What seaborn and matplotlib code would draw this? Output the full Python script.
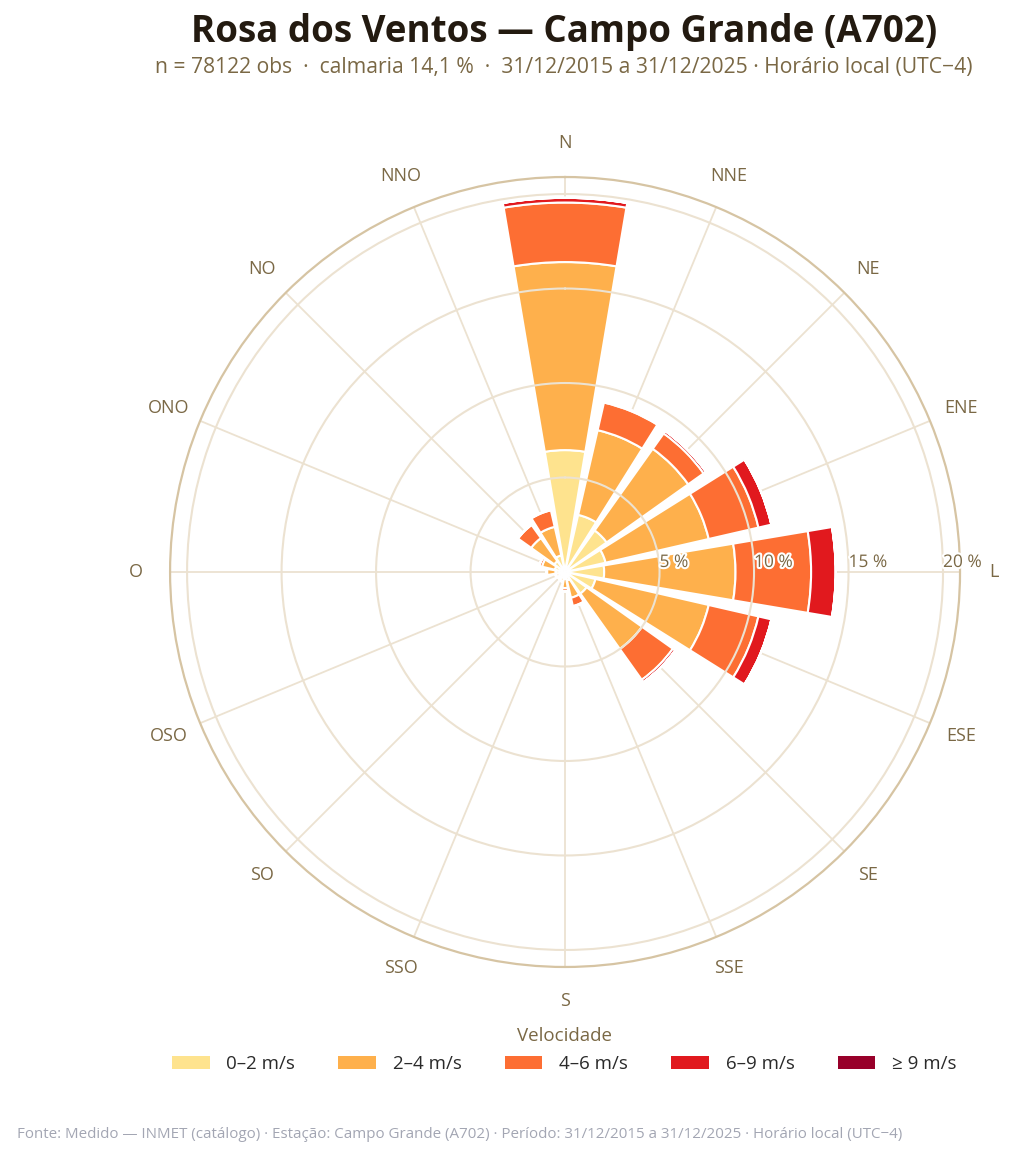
import numpy as np
import seaborn as sns
import matplotlib.pyplot as plt
import matplotlib.patheffects as pe
from matplotlib.patches import Patch

# Wind direction sectors (Portuguese compass points, clockwise from N)
directions = ["N", "NNE", "NE", "ENE", "L", "ESE", "SE", "SSE",
              "S", "SSO", "SO", "OSO", "O", "ONO", "NO", "NNO"]
speed_classes = ["0–2 m/s", "2–4 m/s", "4–6 m/s", "6–9 m/s", "≥ 9 m/s"]
speed_colors = ["#fee38e", "#feb04c", "#fd6e33", "#e1191e", "#98002a"]

# frequency (%) per direction, one list per speed class
freq_0_2 = [6.45, 3.1, 2.7, 2.2, 2.07, 1.65, 1.4, 0.45,
            0.35, 0.3, 0.3, 0.3, 0.5, 0.55, 0.7, 0.9]
freq_2_4 = [9.95, 4.6, 5.3, 5.6, 6.95, 6.15, 3.6, 0.95,
            0.5, 0.2, 0.15, 0.2, 0.45, 0.7, 1.5, 1.55]
freq_4_6 = [3.15, 1.5, 1.0, 2.7, 4.0, 2.7, 2.0, 0.45,
            0.15, 0.03, 0.02, 0.03, 0.03, 0.15, 0.85, 0.9]
freq_6_9 = [0.25, 0.05, 0.15, 0.7, 1.3, 0.7, 0.15, 0.03,
            0.03, 0.0, 0.0, 0.0, 0.0, 0.0, 0.02, 0.03]
freq_9p = [0.0] * 16

ring_ticks = [5, 10, 15, 20]
r_max = 20.9

title = "Rosa dos Ventos — Campo Grande (A702)"
subtitle = ("n = 78122 obs  ·  calmaria 14,1 %  ·  31/12/2015 a 31/12/2025 · "
            "Horário local (UTC−4)")
footer = ("Fonte: Medido — INMET (catálogo) · Estação: Campo Grande (A702) · "
          "Período: 31/12/2015 a 31/12/2025 · Horário local (UTC−4)")

sns.set_theme(style="white")
plt.rcParams["font.family"] = ["Open Sans", "DejaVu Sans"]

brown = "#7a6845"
grid_c = "#ece2d1"

fig = plt.figure(figsize=(10.13, 11.6), dpi=100)
ax = fig.add_axes([0.1678, 0.1664, 0.780, 0.681], projection="polar")
ax.set_theta_zero_location("N")
ax.set_theta_direction(-1)

theta = np.deg2rad(np.arange(16) * 22.5)
width = np.deg2rad(22.5) * 0.85
series = [freq_0_2, freq_2_4, freq_4_6, freq_6_9, freq_9p]
bottom = np.zeros(16)
for vals, col in zip(series, speed_colors):
    vals = np.array(vals)
    ax.bar(theta, vals, width=width, bottom=bottom, color=col,
           edgecolor="white", linewidth=1.5, zorder=1)
    bottom += vals

ax.set_ylim(0, r_max)
ax.set_xticks(theta)
ax.set_xticklabels([])
ax.set_yticks(ring_ticks)
ax.set_yticklabels([])
ax.xaxis.grid(True, color=grid_c, linewidth=1.3)
ax.yaxis.grid(True, color=grid_c, linewidth=1.5)
ax.spines["polar"].set_color("#d6c4a3")
ax.spines["polar"].set_linewidth(1.6)
# rings over the bars, spokes under them
ax.xaxis.set_zorder(0.5)
ax.yaxis.set_zorder(2.5)

for t in ring_ticks:
    ax.annotate(f"{t} %", xy=(np.pi / 2, t), xytext=(0, 6.5),
                textcoords="offset points", ha="left", va="center",
                fontsize=12.5, color=brown, zorder=4,
                path_effects=[pe.withStroke(linewidth=3, foreground="white")])

for th, lab in zip(theta, directions):
    ax.text(th, r_max * 429 / 395, lab, ha="center", va="center",
            fontsize=13, color=brown, clip_on=False)

fig.text(0.557, 1 - 32 / 1160, title, ha="center", va="center",
         fontsize=26.5, fontweight="bold", color="#231a10")
fig.text(0.557, 1 - 68 / 1160, subtitle, ha="center", va="center",
         fontsize=15.2, color=brown)
fig.text(17 / 1013, 1 - 1134 / 1160, footer, ha="left", va="center",
         fontsize=10.9, color="#a3a6b3")

handles = [Patch(facecolor=c, edgecolor="none") for c in speed_colors]
leg = fig.legend(handles, speed_classes, loc="upper center",
                 bbox_to_anchor=(0.557, 1 - 1010 / 1160), ncol=5,
                 frameon=False, title="Velocidade", fontsize=13.5,
                 title_fontsize=13.5, handlelength=2.0, handleheight=0.65,
                 handletextpad=0.9, columnspacing=2.3, labelspacing=0.55)
leg.get_title().set_color(brown)
for txt in leg.get_texts():
    txt.set_color("#2a2a2a")

fig.savefig("out.png", dpi=100)
